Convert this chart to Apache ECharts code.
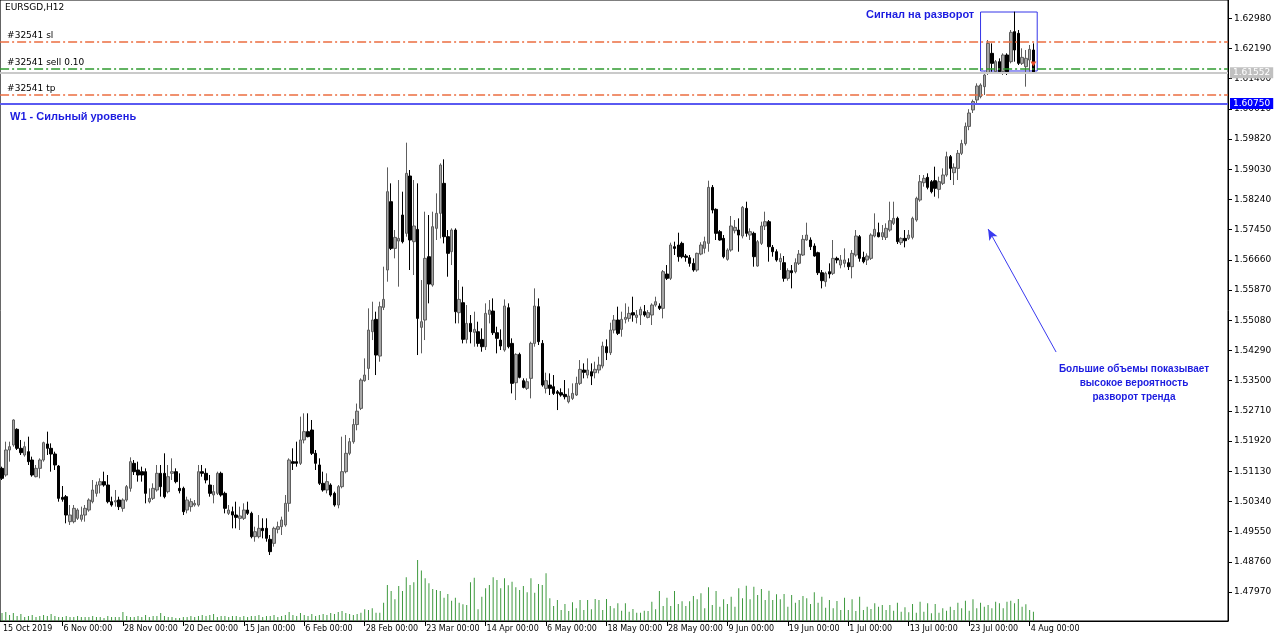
<!DOCTYPE html>
<html><head><meta charset="utf-8">
<script src="https://cdn.jsdelivr.net/npm/echarts@6/dist/echarts.min.js"></script>
<style>html,body{margin:0;padding:0;background:#fff}#c{width:1280px;height:641px}</style>
</head><body><div id="c"></div>
<script>
const chartTitle = 'EURSGD,H12';
const xTickLabels = ['15 Oct 2019','6 Nov 00:00','28 Nov 00:00','20 Dec 00:00','15 Jan 00:00','6 Feb 00:00','28 Feb 00:00','23 Mar 00:00','14 Apr 00:00','6 May 00:00','18 May 00:00','28 May 00:00','9 Jun 00:00','19 Jun 00:00','1 Jul 00:00','13 Jul 00:00','23 Jul 00:00','4 Aug 00:00'];
const yTicks = [1.62980,1.62190,1.61400,1.60610,1.59820,1.59030,1.58240,1.57450,1.56660,1.55870,1.55080,1.54290,1.53500,1.52710,1.51920,1.51130,1.50340,1.49550,1.48760,1.47970];
const slPrice = 1.6237, sellPrice = 1.6167, tpPrice = 1.6098;
const bidPrice = 1.61552;
const weeklyLevel = 1.60750;
// [open, close, low, high]
const ohlc = [
[1.51205,1.50944,1.50900,1.51249],[1.51031,1.51685,1.50987,1.51903],[1.51685,1.51772,1.51380,1.51903],[1.51816,1.52470,1.51772,1.52487],[1.52226,1.51729,1.51685,1.52252],
[1.51729,1.51615,1.51554,1.51947],[1.51554,1.51772,1.51511,1.51903],[1.51641,1.51380,1.51293,1.52034],[1.51423,1.51031,1.50987,1.51511],[1.50987,1.51205,1.50970,1.51293],
[1.51205,1.51423,1.50944,1.51467],[1.51423,1.51877,1.51380,1.51903],[1.51842,1.51729,1.51554,1.52165],[1.51729,1.51580,1.51118,1.51859],[1.51580,1.51293,1.51162,1.51641],
[1.51266,1.50420,1.50333,1.51293],[1.50447,1.50395,1.50333,1.50743],[1.50464,1.49984,1.49767,1.50508],[1.49811,1.49984,1.49724,1.50246],[1.49811,1.50159,1.49767,1.50246],
[1.49898,1.50115,1.49854,1.50159],[1.49872,1.49984,1.49811,1.50203],[1.49984,1.50159,1.49811,1.50246],[1.50115,1.50377,1.50071,1.50420],[1.50333,1.50639,1.50290,1.50900],
[1.50551,1.50769,1.50464,1.50857],[1.50769,1.50857,1.50551,1.50944],[1.50857,1.50769,1.50726,1.51118],[1.50769,1.50333,1.50290,1.51031],[1.50333,1.50246,1.50203,1.50464],
[1.50326,1.50360,1.50203,1.50639],[1.50377,1.50203,1.50115,1.50464],[1.50159,1.50377,1.50071,1.50420],[1.50377,1.50726,1.50333,1.50769],[1.50682,1.51380,1.50595,1.51493],
[1.51336,1.51118,1.51031,1.51423],[1.51162,1.51031,1.50857,1.51380],[1.51118,1.51031,1.50857,1.51249],[1.51118,1.50551,1.50290,1.51205],[1.50333,1.50420,1.50290,1.50682],
[1.50420,1.50682,1.50377,1.50813],[1.50639,1.51075,1.50595,1.51293],[1.51075,1.50726,1.50464,1.51293],[1.51075,1.50464,1.50420,1.51598],[1.50595,1.50987,1.50551,1.51293],
[1.51075,1.51118,1.50900,1.51467],[1.51118,1.50857,1.50813,1.51205],[1.50682,1.50621,1.50551,1.51075],[1.50682,1.50071,1.49984,1.50726],[1.50115,1.50377,1.50028,1.50464],
[1.50203,1.50333,1.50071,1.50420],[1.50246,1.50290,1.50203,1.50377],[1.50246,1.51118,1.50203,1.51293],[1.51118,1.51075,1.50987,1.51293],[1.51075,1.50900,1.50813,1.51205],
[1.50769,1.50551,1.50464,1.51031],[1.50508,1.50595,1.50290,1.50769],[1.50551,1.51075,1.50508,1.51118],[1.51075,1.50508,1.50464,1.51118],[1.50551,1.50159,1.50028,1.50595],
[1.50028,1.50115,1.49984,1.50246],[1.50071,1.49984,1.49636,1.50203],[1.49984,1.49923,1.49636,1.50333],[1.49898,1.49959,1.49592,1.50203],[1.49898,1.50115,1.49854,1.50290],
[1.50115,1.50028,1.49984,1.50333],[1.50028,1.49418,1.49374,1.50071],[1.49418,1.49548,1.49287,1.49679],[1.49418,1.49636,1.49374,1.49984],[1.49636,1.49575,1.49374,1.49898],
[1.49636,1.49374,1.49287,1.49898],[1.49348,1.49026,1.48938,1.49461],[1.49243,1.49636,1.49156,1.49679],[1.49610,1.49679,1.49505,1.49811],[1.49679,1.49854,1.49461,1.49941],
[1.49723,1.50290,1.49679,1.50508],[1.50290,1.51423,1.50071,1.51467],[1.51380,1.51336,1.51162,1.51729],[1.51380,1.51336,1.51249,1.51903],[1.51336,1.51947,1.51293,1.52557],
[1.51947,1.52165,1.51859,1.52644],[1.52165,1.52034,1.52016,1.52644],[1.52208,1.51598,1.51554,1.52470],[1.51598,1.51336,1.51162,1.51685],[1.51293,1.50813,1.50769,1.51467],
[1.50813,1.50639,1.50595,1.51118],[1.50639,1.50857,1.50551,1.51075],[1.50769,1.50508,1.50464,1.50813],[1.50551,1.50246,1.50203,1.50595],[1.50246,1.50726,1.50159,1.50769],
[1.50726,1.51118,1.50682,1.52034],[1.51118,1.51598,1.51075,1.52078],[1.51598,1.51903,1.51550,1.52000],[1.51900,1.52350,1.51850,1.52500],[1.52350,1.52700,1.52200,1.52900],
[1.52774,1.53515,1.52730,1.53559],[1.53498,1.53646,1.53471,1.54082],[1.53820,1.54823,1.53515,1.55390],[1.54779,1.55085,1.54561,1.55564],[1.55102,1.54169,1.53646,1.55303],
[1.54143,1.55434,1.53995,1.55564],[1.55416,1.55625,1.55346,1.56480],[1.56393,1.58442,1.56087,1.59078],[1.58180,1.56959,1.56916,1.58660],[1.56959,1.57247,1.56698,1.57439],
[1.57151,1.57221,1.55957,1.58747],[1.57831,1.57134,1.57090,1.58442],[1.57352,1.58921,1.57265,1.59724],[1.58852,1.57178,1.56393,1.59009],[1.57134,1.57544,1.56262,1.58747],
[1.57456,1.55128,1.54169,1.58660],[1.54893,1.55041,1.54213,1.56131],[1.55085,1.56698,1.54561,1.57919],[1.56741,1.56026,1.55521,1.57831],[1.56000,1.57526,1.55957,1.57919],
[1.57483,1.57875,1.57178,1.58398],[1.57875,1.59139,1.57221,1.59183],[1.58660,1.57265,1.57090,1.59288],[1.57265,1.56829,1.56218,1.57439],[1.56872,1.57439,1.56523,1.57483],
[1.57439,1.55303,1.54997,1.57483],[1.55277,1.55625,1.54997,1.56131],[1.55538,1.54579,1.54474,1.55957],[1.54579,1.54997,1.54474,1.55477],[1.54997,1.54779,1.54474,1.55216],
[1.54762,1.54840,1.54387,1.55303],[1.54779,1.54474,1.54387,1.55041],[1.54579,1.54387,1.54256,1.54867],[1.54387,1.55259,1.54300,1.55521],[1.55233,1.55346,1.54997,1.55608],
[1.55320,1.54753,1.54692,1.55651],[1.54753,1.54605,1.54213,1.54910],[1.54561,1.54404,1.54300,1.54840],[1.54300,1.55451,1.54256,1.55625],[1.55407,1.54387,1.54343,1.55521],
[1.54474,1.53428,1.53166,1.54605],[1.53445,1.54186,1.52992,1.54213],[1.54186,1.53585,1.53559,1.54230],[1.53498,1.53323,1.53297,1.53559],[1.53297,1.53471,1.53254,1.53559],
[1.53559,1.54474,1.53035,1.54518],[1.54474,1.55451,1.54387,1.55913],[1.55434,1.54518,1.54431,1.55651],[1.54474,1.53384,1.53341,1.54561],[1.53297,1.53498,1.53166,1.53707],
[1.53384,1.53297,1.53123,1.53689],[1.53341,1.53166,1.53123,1.53646],[1.53210,1.53166,1.52730,1.53254],[1.53184,1.53123,1.53079,1.53297],[1.53140,1.53079,1.53009,1.53515],
[1.52948,1.53097,1.52905,1.53297],[1.53035,1.53166,1.52992,1.53428],[1.53123,1.53428,1.53097,1.53602],[1.53428,1.53794,1.53384,1.54038],[1.53777,1.53716,1.53559,1.53951],
[1.53646,1.53777,1.53559,1.54082],[1.53733,1.53620,1.53384,1.53951],[1.53707,1.53794,1.53559,1.53995],[1.53777,1.53907,1.53689,1.54125],[1.53881,1.54404,1.53820,1.54518],
[1.54387,1.54230,1.54038,1.54579],[1.54230,1.54823,1.54169,1.55015],[1.54823,1.55085,1.54736,1.55216],[1.55085,1.54736,1.54692,1.55434],[1.54840,1.55102,1.54649,1.55303],
[1.55102,1.55154,1.54997,1.55521],[1.55128,1.55259,1.55041,1.55434],[1.55277,1.55216,1.55041,1.55695],[1.55154,1.55216,1.54997,1.55346],[1.55216,1.55364,1.54954,1.55434],
[1.55303,1.55216,1.55172,1.55477],[1.55154,1.55277,1.55128,1.55346],[1.55216,1.55477,1.54954,1.55521],[1.55477,1.55564,1.55434,1.55695],[1.55451,1.55390,1.55346,1.55521],
[1.55390,1.56349,1.55128,1.56393],[1.56288,1.56175,1.56131,1.56523],[1.56175,1.57047,1.56131,1.57108],[1.57003,1.56959,1.56785,1.57134],[1.57047,1.56741,1.56611,1.57369],
[1.57090,1.56741,1.56698,1.57134],[1.56759,1.56724,1.56611,1.56811],[1.56715,1.56567,1.56480,1.56785],[1.56567,1.56393,1.56349,1.56698],[1.56393,1.56829,1.56349,1.56846],
[1.56811,1.57047,1.56780,1.57120],[1.56960,1.57134,1.56829,1.57265],[1.57090,1.58555,1.56872,1.58730],[1.58555,1.57962,1.57875,1.58616],[1.57980,1.57352,1.57178,1.58006],
[1.57396,1.57178,1.57160,1.57439],[1.57221,1.56742,1.56698,1.57308],[1.56672,1.56916,1.56637,1.56960],[1.56916,1.57544,1.56872,1.57806],[1.57422,1.57509,1.57352,1.57701],
[1.57439,1.57308,1.56872,1.57744],[1.57282,1.58032,1.57221,1.58067],[1.58006,1.57352,1.57265,1.58180],[1.57308,1.57396,1.57178,1.57483],[1.57352,1.56742,1.56480,1.57396],
[1.56498,1.57134,1.56480,1.57178],[1.57090,1.57544,1.57047,1.57657],[1.57544,1.57657,1.57439,1.57919],[1.57657,1.57003,1.56611,1.57701],[1.56986,1.56872,1.56742,1.57047],
[1.56872,1.56655,1.56611,1.56934],[1.56611,1.56698,1.56393,1.56829],[1.56585,1.56175,1.56088,1.56759],[1.56175,1.56375,1.56114,1.56437],[1.56375,1.56323,1.55913,1.56524],
[1.56349,1.56585,1.56306,1.56698],[1.56568,1.56811,1.56524,1.56916],[1.56785,1.57195,1.56759,1.57308],[1.57178,1.57308,1.57160,1.57631],[1.57178,1.57003,1.56916,1.57247],
[1.57021,1.56759,1.56742,1.57090],[1.56846,1.56323,1.56262,1.56872],[1.56323,1.56114,1.55913,1.56393],[1.56088,1.56306,1.55957,1.56349],[1.56349,1.56288,1.56175,1.56568],
[1.56306,1.56698,1.56262,1.57178],[1.56698,1.56655,1.56568,1.56742],[1.56524,1.56655,1.56437,1.56785],[1.56568,1.56655,1.56463,1.56960],[1.56585,1.56480,1.56393,1.56698],
[1.56480,1.56829,1.56175,1.56916],[1.56785,1.57282,1.56742,1.57439],[1.57265,1.56698,1.56611,1.57308],[1.56724,1.56611,1.56568,1.56872],[1.56655,1.56759,1.56524,1.56829],
[1.56698,1.57308,1.56655,1.57352],[1.57282,1.57457,1.57247,1.57875],[1.57370,1.57265,1.57247,1.57631],[1.57265,1.57370,1.57178,1.57570],[1.57247,1.57483,1.57178,1.57614],
[1.57439,1.57683,1.57396,1.58180],[1.57614,1.57744,1.57570,1.58180],[1.57744,1.57134,1.57073,1.57788],[1.57108,1.57221,1.57047,1.57247],[1.57221,1.57160,1.56986,1.57439],
[1.57221,1.57308,1.57178,1.57439],[1.57247,1.57744,1.57195,1.57788],[1.57701,1.58268,1.57657,1.58311],[1.58224,1.58704,1.58180,1.58878],[1.58677,1.58791,1.58573,1.58878],
[1.58817,1.58555,1.58503,1.58922],[1.58704,1.58442,1.58398,1.58747],[1.58730,1.58529,1.58311,1.59096],[1.58503,1.58704,1.58268,1.58834],[1.58660,1.58878,1.58616,1.59052],
[1.58878,1.59358,1.58834,1.59488],[1.59358,1.59052,1.58747,1.59401],[1.58939,1.59079,1.58616,1.59183],[1.59052,1.59445,1.58747,1.59532],[1.59445,1.59700,1.59400,1.59800],
[1.59700,1.60150,1.59650,1.60250],[1.60150,1.60500,1.60050,1.60600],[1.60580,1.60800,1.60500,1.60850],[1.60840,1.61206,1.60753,1.61276],[1.60927,1.61232,1.60884,1.61276],
[1.61189,1.61494,1.60971,1.61581],[1.61538,1.62322,1.61494,1.62410],[1.62061,1.61799,1.61581,1.62322],[1.61581,1.61843,1.61538,1.61886],[1.61843,1.61581,1.61538,1.61930],
[1.61581,1.62017,1.61494,1.62061],[1.62017,1.61581,1.61494,1.62061],[1.61843,1.62610,1.61799,1.62671],[1.62628,1.62148,1.61843,1.63151],[1.62584,1.61799,1.61756,1.62671],
[1.61799,1.61956,1.61756,1.62192],[1.61712,1.61930,1.61189,1.62148],[1.61886,1.62165,1.61581,1.62279],[1.62148,1.61552,1.61538,1.62322]
];
const volumes = [
800,900,600,800,500,700,400,500,600,400,
500,600,500,700,500,400,400,500,400,400,
500,400,400,400,500,400,400,300,500,400,
400,400,900,500,400,400,500,400,600,400,
500,500,800,500,400,400,300,300,400,400,
500,400,500,600,500,600,700,400,500,500,
400,500,500,400,500,400,500,500,600,400,
500,500,600,400,500,600,900,600,500,800,
600,500,700,500,600,700,600,800,700,900,
1000,800,700,600,700,830,1170,1100,1270,830,
830,1830,3600,3000,2170,3500,3000,4370,3600,3870,
6100,5030,4270,3770,3200,3100,3000,2330,2700,2030,
2330,1830,1670,1600,3870,4330,1170,2430,3270,3600,
4370,4100,3270,4270,3570,3930,3370,3100,3500,2870,
4270,2830,3700,3600,4770,2270,1500,2100,1100,1700,
1000,1870,1270,2100,1100,2100,1170,2200,2100,1100,
2200,1500,1270,1770,1030,1770,930,1200,830,830,
1030,1000,1930,1170,3000,1500,2330,1500,3000,1700,
1970,1500,1970,2500,2170,2770,1270,3370,1600,3000,
1430,2170,1700,2430,1430,3270,2270,3530,2170,3430,
2600,3200,2100,3030,2100,2670,2170,2700,1430,2600,
1830,2100,2500,2270,1700,2870,1830,2430,1330,2100,
1270,2000,1100,2330,1100,2170,1000,2430,1100,1430,
1200,1770,1430,1600,1100,1600,1030,1830,930,1370,
870,1700,830,1930,930,1770,770,1700,830,1270,
1030,1430,1100,1830,1270,2030,1030,2170,1270,1830,
1430,1600,1270,1930,1770,1270,1930,2030,1770,2200,
1430,1670,1100,930
];

// calendar of bars: daily bars until 6 May 2020, H12 bars afterwards, plus empty right margin
function buildDates(n) {
  const mon = ['Jan','Feb','Mar','Apr','May','Jun','Jul','Aug','Sep','Oct','Nov','Dec'];
  const skip = ['2019-12-25','2020-01-01'];
  const h12From = Date.UTC(2020,4,6);
  const out = [];
  let t = Date.UTC(2019,9,15);
  while (out.length < n) {
    const d = new Date(t);
    const dow = d.getUTCDay();
    const iso = d.toISOString().slice(0,10);
    if (dow !== 0 && dow !== 6 && skip.indexOf(iso) < 0) {
      const base = d.getUTCDate() + ' ' + mon[d.getUTCMonth()] + ' ' + d.getUTCFullYear();
      out.push(base + ' 00:00');
      if (t >= h12From && out.length < n) out.push(base + ' 12:00');
    }
    t += 86400000;
  }
  return out;
}
const TOTAL_SLOTS = 325;
const categories = buildDates(TOTAL_SLOTS);
const TICK_EVERY = 16;

const FONT = '"DejaVu Sans", sans-serif';
const BOLD_FONT = '"Liberation Sans", Arial, sans-serif';
const BLUE_TXT = '#1c1ce0';
const ORANGE = '#ec6d40';
const GREEN = '#2f9a2f';
const DASHDOT = [9,3,2,3];

const tickShown = (i) => i % TICK_EVERY === 0 && i / TICK_EVERY < xTickLabels.length;

function levelSeries(name, price, color, type, width, label) {
  return {
    name: name, type: 'line', data: [], xAxisIndex: 0, yAxisIndex: 0, silent: true, z: 2,
    itemStyle: {color: color}, lineStyle: {color: color},
    markLine: {
      silent: true, symbol: ['none','none'], animation: false, precision: 5,
      lineStyle: {color: color, type: type, width: width},
      label: label,
      data: [{yAxis: price}]
    }
  };
}
const tradeLabel = (txt) => ({show: true, position: 'insideStartTop', formatter: txt, color: '#000', fontSize: 9, fontFamily: FONT, distance: [7, 1]});
const priceTag = (txt, bg) => ({show: true, position: 'end', formatter: txt, color: '#fff', backgroundColor: bg, padding: [1,3,1,3], fontSize: 9, fontFamily: FONT, distance: 2});

const chart = echarts.init(document.getElementById('c'), null, {renderer: 'canvas'});
chart.setOption({
  animation: false,
  backgroundColor: '#ffffff',
  grid: {left: 0, right: 52, top: 0, bottom: 20, show: true, borderColor: '#000', borderWidth: 1, backgroundColor: '#fff'},
  xAxis: {
    type: 'category', data: categories, boundaryGap: true,
    axisLine: {show: true, lineStyle: {color: '#000', width: 1}},
    axisTick: {show: true, alignWithLabel: true, length: 5, lineStyle: {color: '#000'}, interval: (i) => i > 0 && tickShown(i)},
    axisLabel: {
      interval: (i) => tickShown(i), formatter: (v, i) => xTickLabels[i / TICK_EVERY],
      align: 'left', margin: 4, color: '#000', fontSize: 8, fontFamily: FONT, padding: [0,0,0,1]
    },
    splitLine: {show: false}
  },
  yAxis: [{
    type: 'value', position: 'right', min: 1.47212, max: 1.63456, scale: true,
    axisLine: {show: true, lineStyle: {color: '#000'}},
    axisTick: {show: true, length: 4, customValues: yTicks, lineStyle: {color: '#000'}},
    axisLabel: {customValues: yTicks, formatter: (v) => v.toFixed(5), color: '#000', fontSize: 9, fontFamily: FONT, margin: 6},
    splitLine: {show: false}
  }, {
    type: 'value', min: 0, max: 62000, show: false, splitLine: {show: false}
  }],
  series: [
    {
      name: 'Volume', type: 'bar', xAxisIndex: 0, yAxisIndex: 1, data: volumes,
      barWidth: 1, itemStyle: {color: '#3f9a3f'}, silent: true, z: 1
    },
    levelSeries('sl', slPrice, ORANGE, DASHDOT, 1.5, tradeLabel('#32541 sl')),
    levelSeries('sell', sellPrice, GREEN, DASHDOT, 1.5, tradeLabel('#32541 sell 0.10')),
    levelSeries('bid', bidPrice, '#cacaca', 'solid', 2, priceTag(bidPrice.toFixed(5), '#c0c0c0')),
    levelSeries('tp', tpPrice, ORANGE, DASHDOT, 1.5, tradeLabel('#32541 tp')),
    levelSeries('W1', weeklyLevel, '#5a5af2', 'solid', 2, priceTag(weeklyLevel.toFixed(5), '#0000ff')),
    {
      name: chartTitle, type: 'candlestick', xAxisIndex: 0, yAxisIndex: 0, data: ohlc,
      barWidth: 3, z: 3,
      itemStyle: {color: '#a6a6a6', borderColor: '#5e5e5e', color0: '#000000', borderColor0: '#000000', borderWidth: 1},
      markLine: {
        silent: true, animation: false, precision: 5,
        lineStyle: {color: '#3a3af0', width: 1, type: 'solid'},
        label: {show: false},
        data: [
          [{coord: [279, 1.54248], symbol: 'none'},
           {coord: [261, 1.57466], symbol: 'arrow', symbolSize: [7, 11]}]
        ]
      },
      markArea: {
        silent: true,
        itemStyle: {color: 'rgba(0,0,0,0)', borderColor: '#3535e8', borderWidth: 1},
        data: [[{coord: [259, 1.63142]}, {coord: [274, 1.61599]}]]
      },
      markPoint: {
        silent: true,
        data: [{coord: [273, 1.6178], symbol: 'triangle', symbolRotate: 180, symbolSize: [6, 5], itemStyle: {color: '#e8502d'}, label: {show: false}}]
      }
    }
  ],
  graphic: [
    {type: 'text', x: 5, y: 3, style: {text: chartTitle, fill: '#000', font: '9px ' + FONT}},
    {type: 'text', x: 10, y: 111, style: {text: 'W1 - Сильный уровень', fill: BLUE_TXT, font: 'bold 11px ' + BOLD_FONT}},
    {type: 'text', x: 866, y: 9, style: {text: 'Сигнал на разворот', fill: BLUE_TXT, font: 'bold 11px ' + BOLD_FONT}},
    {type: 'text', x: 1134, y: 362, style: {text: 'Большие объемы показывает\nвысокое вероятность\nразворот тренда', fill: BLUE_TXT, font: 'bold 10px ' + BOLD_FONT, align: 'center', lineHeight: 14}}
  ]
});
</script>
</body></html>
